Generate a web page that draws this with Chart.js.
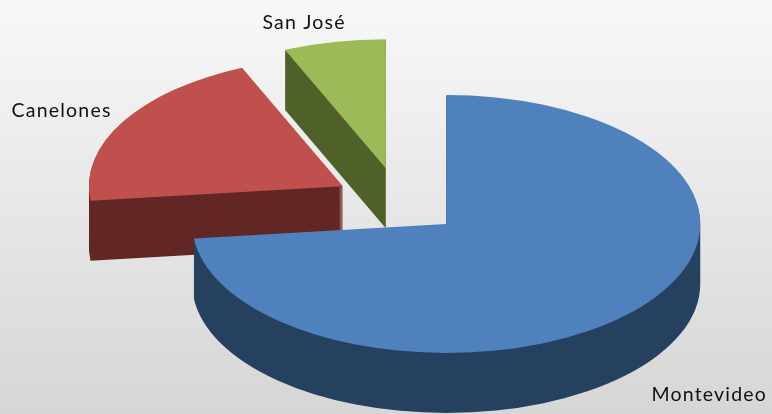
<!DOCTYPE html>
<html><head><meta charset="utf-8">
<script src="https://cdn.jsdelivr.net/npm/chart.js@4.4.1/dist/chart.umd.min.js"></script>
<style>
html,body{margin:0;padding:0;background:#fff;}
#wrap{width:772px;height:414px;background:linear-gradient(to bottom,#f8f8f8 0%,#d6d6d6 100%);}
canvas{display:block;}
</style>
</head><body>
<div id="wrap"><canvas id="c" width="772" height="414"></canvas></div>
<script>
const categories = ['Montevideo', 'Canelones', 'San José'];
const values = [73.2, 20.3, 6.5];

const topColors = ['#4f81bd', '#c0504d', '#9bbb59'];
const sideColors = ['#26405f', '#622624', '#4f6129'];

const pie3d = {
  id: 'pie3d',
  beforeDatasetsDraw(chart, args, opts) {
    const ctx = chart.ctx;
    const meta = chart.getDatasetMeta(0);
    const k = opts.tilt, depth = opts.depth;
    ctx.save();
    for (const i of opts.drawOrder) {
      const el = meta.data[i];
      const p = el.getProps(['x', 'y', 'startAngle', 'endAngle', 'outerRadius'], true);
      const mid = (p.startAngle + p.endAngle) / 2;
      const off = el.options.offset || 0;
      const cx = p.x + Math.cos(mid) * off;
      const cy = p.y + Math.sin(mid) * off * k;
      const sub = (dy) => {
        ctx.moveTo(cx, cy + dy);
        ctx.ellipse(cx, cy + dy, p.outerRadius, p.outerRadius * k, 0, p.startAngle, p.endAngle);
        ctx.closePath();
      };
      ctx.beginPath();
      for (let d = depth; d >= 1; d -= 0.5) sub(d);
      ctx.fillStyle = opts.sideColors[i];
      ctx.fill('nonzero');
      ctx.beginPath();
      sub(0);
      ctx.fillStyle = el.options.backgroundColor;
      ctx.fill();
    }
    ctx.restore();
    return false;
  },
  afterDraw(chart, args, opts) {
    const ctx = chart.ctx;
    const meta = chart.getDatasetMeta(0);
    const el = meta.data[0];
    ctx.save();
    ctx.font = opts.font;
    ctx.fillStyle = opts.color;
    ctx.textAlign = 'center';
    ctx.textBaseline = 'alphabetic';
    if ('letterSpacing' in ctx) ctx.letterSpacing = opts.letterSpacing;
    chart.data.labels.forEach((lab, i) => {
      const o = opts.labelOffsets[i];
      ctx.fillText(lab, el.x + o[0], el.y + o[1]);
    });
    ctx.restore();
  }
};

new Chart(document.getElementById('c'), {
  type: 'pie',
  data: {
    labels: categories,
    datasets: [{
      data: values,
      backgroundColor: topColors,
      borderWidth: 0,
      offset: [62, 66, 70]
    }]
  },
  options: {
    responsive: false,
    animation: false,
    events: [],
    radius: 254,
    rotation: 0,
    layout: { padding: { left: 28, right: 0, top: 0, bottom: 8 } },
    plugins: {
      legend: { display: false },
      tooltip: { enabled: false },
      pie3d: {
        tilt: 0.508,
        depth: 60,
        drawOrder: [2, 1, 0],
        sideColors: sideColors,
        font: '19.5px Lato',
        letterSpacing: '1.2px',
        color: '#111',
        labelOffsets: [[309.3, 197.7], [-338.4, -86.3], [-95.9, -173.7]]
      }
    }
  },
  plugins: [pie3d]
});
</script>
</body></html>
